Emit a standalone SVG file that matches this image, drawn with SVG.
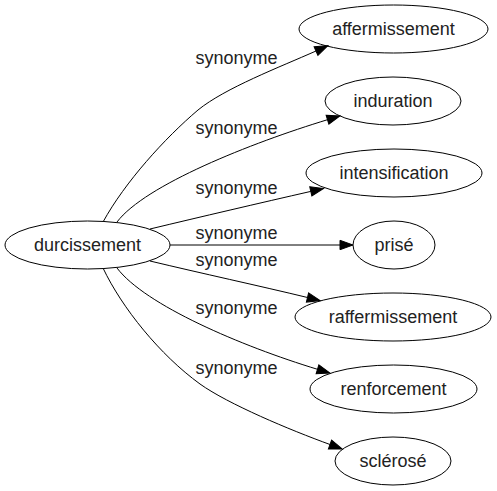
<svg xmlns="http://www.w3.org/2000/svg" width="497" height="491" viewBox="0 0 497 491">
<style>
  .node ellipse { fill: none; stroke: #000; stroke-width: 1; }
  .node text { font-family: "Liberation Sans", Arial, sans-serif; font-size: 18px; text-anchor: middle; fill: #222; }
  .edge path { fill: none; stroke: #000; stroke-width: 1; }
  .lbl { font-family: "Liberation Sans", Arial, sans-serif; font-size: 18px; text-anchor: middle; fill: #222; }
</style>
<defs>
  <marker id="arr" markerUnits="userSpaceOnUse" markerWidth="14" markerHeight="10" refX="0" refY="4.7" orient="auto" viewBox="0 0 14 10" overflow="visible">
    <path d="M0,0 L13,4.7 L0,9.4 Z" fill="#000" stroke="#000" stroke-width="1"/>
  </marker>
</defs>
<rect width="497" height="491" fill="#fff"/>
<g id="connectors">
  <g class="edge" id="e1">
    <path d="M103,222 C125,182 165,138 198,110 C225,88 280,67 316,51" marker-end="url(#arr)"/>
    <text class="lbl" x="236.5" y="64">synonyme</text>
  </g>
  <g class="edge" id="e2">
    <path d="M117,222 C145,185 251,143 327.5,119.7" marker-end="url(#arr)"/>
    <text class="lbl" x="236.5" y="134">synonyme</text>
  </g>
  <g class="edge" id="e3">
    <path d="M150,229 C200,217 260,203 310.8,191.4" marker-end="url(#arr)"/>
    <text class="lbl" x="236.5" y="194">synonyme</text>
  </g>
  <g class="edge" id="e4">
    <path d="M170,245 L340,245" marker-end="url(#arr)"/>
    <text class="lbl" x="236.5" y="239">synonyme</text>
  </g>
  <g class="edge" id="e5">
    <path d="M150,261 C200,273 260,286 307.5,297.5" marker-end="url(#arr)"/>
    <text class="lbl" x="236.5" y="266">synonyme</text>
  </g>
  <g class="edge" id="e6">
    <path d="M117,268 C145,305 241,346 317.5,369.3" marker-end="url(#arr)"/>
    <text class="lbl" x="236.5" y="314">synonyme</text>
  </g>
  <g class="edge" id="e7">
    <path d="M103,268 C122,308 160,355 200,384 C228,404 290,430 330,444.5" marker-end="url(#arr)"/>
    <text class="lbl" x="236.5" y="374">synonyme</text>
  </g>
</g>
<g class="node" id="n-durcissement">
  <ellipse cx="87.5" cy="245" rx="82.5" ry="24"/>
  <text x="87.5" y="251">durcissement</text>
</g>
<g class="node" id="n-affermissement">
  <ellipse cx="393.5" cy="29" rx="94.5" ry="24"/>
  <text x="393.5" y="35">affermissement</text>
</g>
<g class="node" id="n-induration">
  <ellipse cx="393" cy="101" rx="68" ry="24"/>
  <text x="393" y="107">induration</text>
</g>
<g class="node" id="n-intensification">
  <ellipse cx="394" cy="173" rx="88" ry="24"/>
  <text x="394" y="179">intensification</text>
</g>
<g class="node" id="n-prise">
  <ellipse cx="394" cy="245" rx="41" ry="24"/>
  <text x="394" y="251">prisé</text>
</g>
<g class="node" id="n-raffermissement">
  <ellipse cx="393" cy="317" rx="98" ry="24"/>
  <text x="393" y="323">raffermissement</text>
</g>
<g class="node" id="n-renforcement">
  <ellipse cx="393.5" cy="389" rx="83.5" ry="24"/>
  <text x="393.5" y="395">renforcement</text>
</g>
<g class="node" id="n-sclerose">
  <ellipse cx="393" cy="461" rx="58" ry="24"/>
  <text x="393" y="467">sclérosé</text>
</g>
</svg>
